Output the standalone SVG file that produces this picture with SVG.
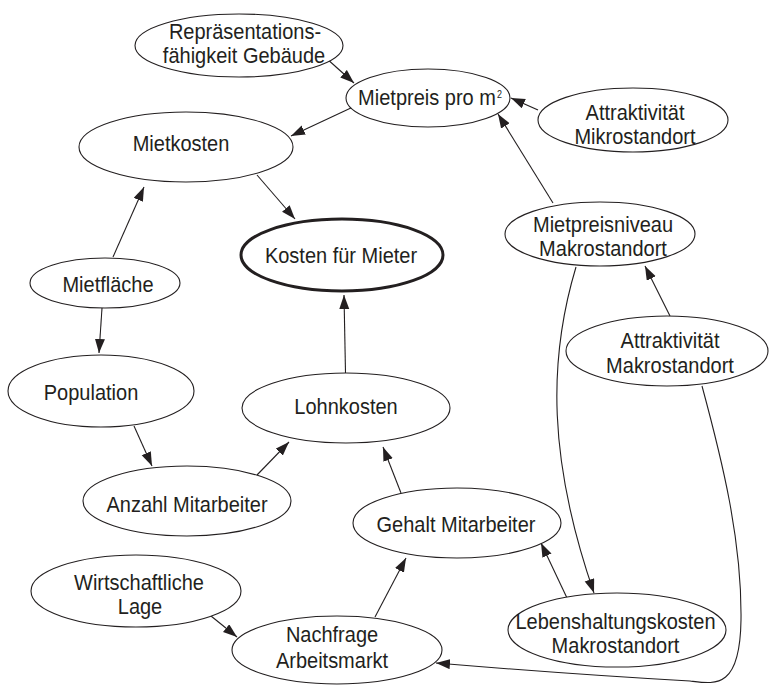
<svg xmlns="http://www.w3.org/2000/svg" width="769" height="685" viewBox="0 0 769 685">
  <style>
    .node ellipse { fill: #ffffff; stroke: #231f20; stroke-width: 1.1; }
    .node.main ellipse { stroke-width: 3; }
    .node text { font-family: "Liberation Sans", Arial, sans-serif; font-size: 20px; fill: #231f20; text-anchor: middle; }
    .node text.sup { font-size: 9px; text-anchor: start; }
    .edges path { fill: none; stroke: #231f20; stroke-width: 1.1; marker-end: url(#arrow); }
  </style>
  <defs>
    <marker id="arrow" markerUnits="userSpaceOnUse" markerWidth="15" markerHeight="11" refX="14" refY="5" orient="auto">
      <path d="M0,0 L14,5 L0,10 z" fill="#231f20"/>
    </marker>
  </defs>
  <rect width="769" height="685" fill="#ffffff"/>

  <!-- connectors -->
  <g id="edges" class="edges">
    <path d="M326,58 L354,83"/>
    <path d="M538,110 L511,98"/>
    <path d="M553,203 L498,114"/>
    <path d="M353,107 L291,136"/>
    <path d="M257,175 L295,219"/>
    <path d="M113,257 L144,187"/>
    <path d="M102,308 L99,353"/>
    <path d="M134,426 L152,466"/>
    <path d="M257,475 L289,442"/>
    <path d="M345.5,373 L344,295"/>
    <path d="M401,493 L383,447"/>
    <path d="M375,617 L406,558"/>
    <path d="M211,616 L237,637"/>
    <path d="M567,598 L541,543"/>
    <path d="M576,267 C548,360 548,460 594,593"/>
    <path d="M670,316 L645,266"/>
    <path d="M702,386 C722,460 742,540 741,620 C740,690 715,684 690,681 C600,676 520,670 436,663"/>
  </g>

  <!-- nodes -->
  <g id="repraesentationsfaehigkeit" class="node">
    <ellipse cx="239" cy="45.5" rx="104" ry="31.5"/>
    <text transform="translate(245,39) scale(1,1.14)">Repräsentations-</text>
    <text transform="translate(244,63) scale(1,1.14)">fähigkeit Gebäude</text>
  </g>
  <g id="mietpreis" class="node">
    <ellipse cx="428" cy="98" rx="82" ry="29"/>
    <text transform="translate(427,105) scale(1,1.14)">Mietpreis pro m</text>
    <text class="sup" transform="translate(497,98) scale(1,1.14)">2</text>
  </g>
  <g id="attraktivitaet-mikro" class="node">
    <ellipse cx="633" cy="120" rx="95" ry="32"/>
    <text transform="translate(635,120) scale(1,1.14)">Attraktivität</text>
    <text transform="translate(635,143.5) scale(1,1.14)">Mikrostandort</text>
  </g>
  <g id="mietkosten" class="node">
    <ellipse cx="186" cy="147" rx="107" ry="35"/>
    <text transform="translate(181,151) scale(1,1.14)">Mietkosten</text>
  </g>
  <g id="kosten-mieter" class="node main">
    <ellipse cx="342" cy="255" rx="101" ry="36"/>
    <text transform="translate(341,263) scale(1,1.14)">Kosten für Mieter</text>
  </g>
  <g id="mietpreisniveau" class="node">
    <ellipse cx="600" cy="234" rx="95" ry="32"/>
    <text transform="translate(603,232) scale(1,1.14)">Mietpreisniveau</text>
    <text transform="translate(603,256) scale(1,1.14)">Makrostandort</text>
  </g>
  <g id="mietflaeche" class="node">
    <ellipse cx="105" cy="283" rx="75" ry="25"/>
    <text transform="translate(108,292) scale(1,1.14)">Mietfläche</text>
  </g>
  <g id="attraktivitaet-makro" class="node">
    <ellipse cx="667" cy="351" rx="101" ry="35"/>
    <text transform="translate(670,348) scale(1,1.14)">Attraktivität</text>
    <text transform="translate(670,373) scale(1,1.14)">Makrostandort</text>
  </g>
  <g id="population" class="node">
    <ellipse cx="101" cy="391" rx="93" ry="36"/>
    <text transform="translate(91,400) scale(1,1.14)">Population</text>
  </g>
  <g id="lohnkosten" class="node">
    <ellipse cx="346" cy="408" rx="104" ry="35"/>
    <text transform="translate(346,414) scale(1,1.14)">Lohnkosten</text>
  </g>
  <g id="anzahl-mitarbeiter" class="node">
    <ellipse cx="187" cy="501" rx="104" ry="35"/>
    <text transform="translate(187,512) scale(1,1.14)">Anzahl Mitarbeiter</text>
  </g>
  <g id="gehalt-mitarbeiter" class="node">
    <ellipse cx="457" cy="523" rx="104" ry="35"/>
    <text transform="translate(456,532) scale(1,1.14)">Gehalt Mitarbeiter</text>
  </g>
  <g id="wirtschaftliche-lage" class="node">
    <ellipse cx="136" cy="591" rx="105" ry="36"/>
    <text transform="translate(139,590) scale(1,1.14)">Wirtschaftliche</text>
    <text transform="translate(140,614) scale(1,1.14)">Lage</text>
  </g>
  <g id="lebenshaltungskosten" class="node">
    <ellipse cx="617" cy="630" rx="109" ry="37"/>
    <text transform="translate(615.5,629) scale(1,1.14)">Lebenshaltungskosten</text>
    <text transform="translate(615.5,653) scale(1,1.14)">Makrostandort</text>
  </g>
  <g id="nachfrage-arbeitsmarkt" class="node">
    <ellipse cx="337" cy="650" rx="105" ry="34"/>
    <text transform="translate(332,642) scale(1,1.14)">Nachfrage</text>
    <text transform="translate(332,668) scale(1,1.14)">Arbeitsmarkt</text>
  </g>
</svg>
